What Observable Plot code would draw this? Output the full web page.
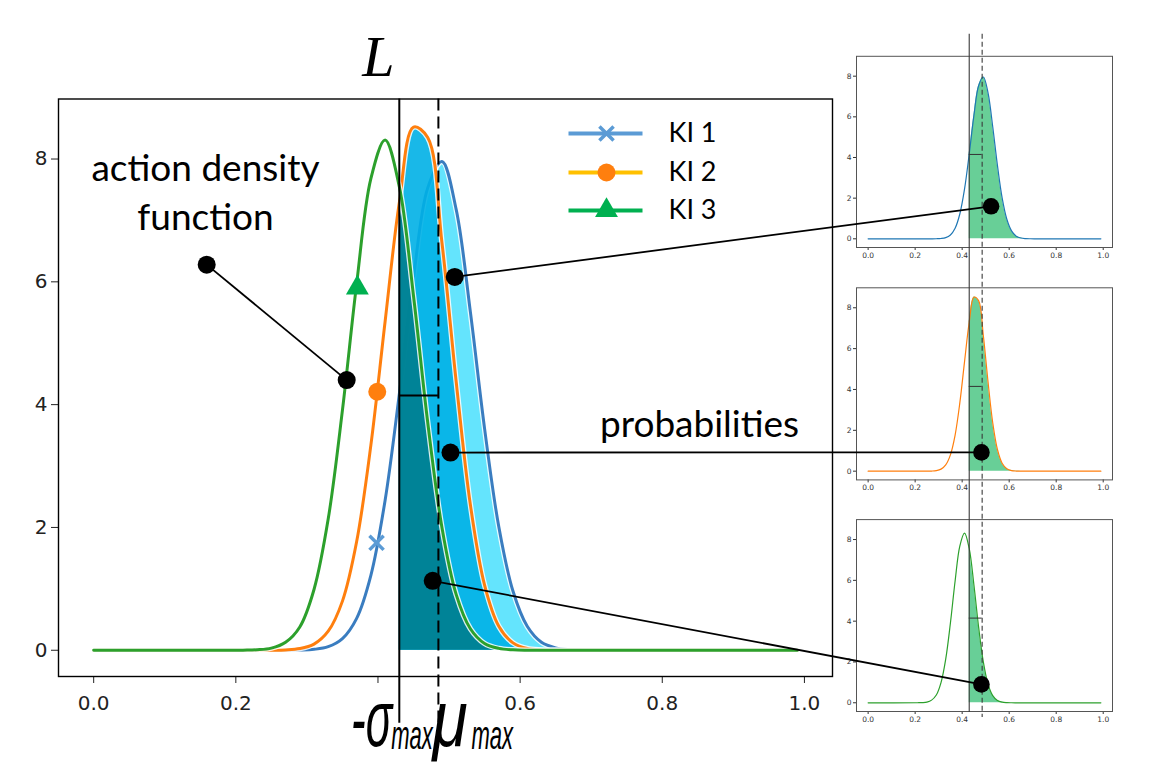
<!DOCTYPE html>
<html>
<head>
<meta charset="utf-8">
<script src="https://cdn.jsdelivr.net/npm/d3@7"></script>
<script src="https://cdn.jsdelivr.net/npm/@observablehq/plot@0.6"></script>
<style>
  html, body { margin: 0; padding: 0; background: #fff; }
  #fig { position: relative; width: 1171px; height: 781px; overflow: hidden; background: #fff; }
  #fig svg { position: absolute; left: 0; top: 0; }
</style>
</head>
<body>
<div id="fig"></div>
<script>
// Action density of three KIs on a shared grid of action values
const xs  = [0, 0.21, 0.23, 0.25, 0.27, 0.29, 0.31, 0.33, 0.35, 0.37, 0.39, 0.41, 0.43, 0.45, 0.47,
             0.49, 0.51, 0.53, 0.55, 0.57, 0.59, 0.61, 0.63, 0.65, 0.67, 0.69, 0.71, 0.73, 0.75, 0.99];
const ki1 = [0, 0, 0, 0, 0, 0.003, 0.015, 0.058, 0.19, 0.52, 1.22, 2.44, 4.17, 6.07, 7.53,
             7.96, 7.18, 5.51, 3.61, 2.01, 0.96, 0.39, 0.13, 0.039, 0.01, 0.002, 0, 0, 0, 0];
const ki2 = [0, 0, 0, 0.001, 0.006, 0.027, 0.10, 0.31, 0.80, 1.77, 3.34, 5.35, 7.29, 8.52, 8.35,
             6.64, 4.38, 2.37, 1.06, 0.39, 0.12, 0.028, 0.005, 0.001, 0, 0, 0, 0, 0, 0];
const ki3 = [0, 0.002, 0.008, 0.034, 0.13, 0.38, 0.99, 2.14, 3.91, 5.97, 7.68, 8.31, 7.55, 5.77, 3.71,
             2.00, 0.91, 0.35, 0.11, 0.03, 0.007, 0.001, 0, 0, 0, 0, 0, 0, 0, 0];
const seriesNames = ["KI 1", "KI 2", "KI 3"];

// Threshold L = -sigma_max, the largest mean mu_max, and the level of the bracket between them
const L = 0.43;
const MU = 0.485;
const BRACKET = 4.15;

// Tick values
const xTicks = [0, 0.2, 0.4, 0.6, 0.8, 1.0];
const yTicks = [0, 2, 4, 6, 8];

// Series markers placed on the curves
const markerX = [0.398, 0.399, 0.371];
const markerY = [1.75, 4.21, 5.9];

// Annotation points: label anchor and its point on the KI 3 curve
const labelPointX = [0.159, 0.356];
const labelPointY = [6.28, 4.4];

// Probability probes in the main chart and their counterparts in the three small charts
const probeMainX  = [0.508, 0.502, 0.477];
const probeMainY  = [6.08, 3.22, 1.13];
const probeSmallX = [0.523, 0.482, 0.482];
const probeSmallY = [1.6, 0.92, 0.9];

// ---------------------------------------------------------------------------
const W = 1171, H = 781;
const xDomain = [-0.0495, 1.0395];
const yDomain = [-0.4275, 8.9775];
const curve = "catmull-rom";
const keys = ["ki1", "ki2", "ki3"];

const rows = xs.map((x, i) => ({x, ki1: ki1[i], ki2: ki2[i], ki3: ki3[i]}));
const tail = rows.filter(d => d.x >= L);

const style = {
  line:   ["#3a7dc0", "#ff7f0e", "#2ca02c"],
  small:  ["#1f77b4", "#ff7f0e", "#2ca02c"],
  fill:   ["#64e4fd", "#00b0e6", "#007f8f"],
  legend: ["#5b9bd5", "#ffc000", "#00b050"],
  marker: ["#5b9bd5", "#ff7f0e", "#00b050"]
};

const halo = key => Plot.line(rows, {x: "x", y: key, curve, stroke: "white", strokeWidth: 5.5, strokeOpacity: 0.85});
const curveLine = (key, i) => Plot.line(rows, {x: "x", y: key, curve, stroke: style.line[i], strokeWidth: 3});
const lineBottom = -1.19;

const markers = markerX.map((x, i) => ({x, y: markerY[i], i}));

// Main chart
const main = Plot.plot({
  width: W, height: H,
  marginLeft: 58, marginRight: 339, marginTop: 98.5, marginBottom: 105,
  x: {domain: xDomain, ticks: xTicks, tickFormat: d => d === 0.4 ? "" : d.toFixed(1),
      tickSize: 7, tickPadding: 12, label: null},
  y: {domain: yDomain, ticks: yTicks, tickSize: 7, tickPadding: 4, label: null},
  style: {background: "transparent", fontFamily: "DejaVu Sans", fontSize: "20px", color: "#222"},
  marks: [
    Plot.areaY(tail, {x: "x", y: "ki1", curve, fill: style.fill[0]}),
    halo("ki1"), curveLine("ki1", 0),
    Plot.areaY(tail, {x: "x", y: "ki2", curve, fill: style.fill[1], fillOpacity: 0.9}),
    Plot.areaY(tail, {x: "x", y: "ki3", curve, fill: style.fill[2], fillOpacity: 0.92}),
    halo("ki2"), curveLine("ki2", 1),
    halo("ki3"), curveLine("ki3", 2),
    Plot.ruleX([L], {y1: () => yDomain[1], y2: () => lineBottom, stroke: "black", strokeWidth: 2}),
    Plot.ruleX([MU], {y1: () => yDomain[1], y2: () => lineBottom, stroke: "black", strokeWidth: 2, strokeDasharray: "12,6"}),
    Plot.ruleY([BRACKET], {x1: () => L, x2: () => MU, stroke: "black", strokeWidth: 2}),
    Plot.frame({stroke: "black", strokeWidth: 1.4}),
    Plot.dot(markers.filter(d => d.i === 0), {x: "x", y: "y", symbol: "times", r: 6.5, stroke: style.marker[0], strokeWidth: 3.5}),
    Plot.dot(markers.filter(d => d.i === 1), {x: "x", y: "y", symbol: "circle", r: 9, fill: style.marker[1]}),
    Plot.dot(markers.filter(d => d.i === 2), {x: "x", y: "y", symbol: "triangle", r: 8.5, fill: style.marker[2]}),
    Plot.link([0], {x1: () => labelPointX[0], y1: () => labelPointY[0], x2: () => labelPointX[1], y2: () => labelPointY[1], stroke: "black", strokeWidth: 1.8}),
    Plot.dot(labelPointX.map((x, i) => ({x, y: labelPointY[i]})), {x: "x", y: "y", r: 9, fill: "black"})
  ]
});

// Small per-KI charts on the right
const smallFrames = [[55.8, 534], [287.3, 301.6], [519.1, 70]];
const smalls = keys.map((key, i) => Plot.plot({
  width: W, height: H,
  marginLeft: 856, marginRight: 59, marginTop: smallFrames[i][0], marginBottom: smallFrames[i][1],
  x: {domain: xDomain, ticks: xTicks, tickFormat: d => d.toFixed(1), tickSize: 3, tickPadding: 2, label: null},
  y: {domain: yDomain, ticks: yTicks, tickSize: 3, tickPadding: 2, label: null},
  style: {background: "transparent", fontFamily: "DejaVu Sans", fontSize: "7.5px", color: "#333"},
  marks: [
    Plot.areaY(tail, {x: "x", y: key, curve, fill: "#68cf97"}),
    Plot.line(rows, {x: "x", y: key, curve, stroke: style.small[i], strokeWidth: 1.2}),
    Plot.ruleY([BRACKET], {x1: () => L, x2: () => MU, stroke: "#333", strokeWidth: 1}),
    Plot.frame({stroke: "#555", strokeWidth: 1})
  ]
}));

// Overlay in page pixels: connectors, probes, guide lines, legend and labels
const lin = s => d3.scaleLinear(s.domain, s.range);
const mX = lin(main.scale("x")), mY = lin(main.scale("y"));
const sc = smalls.map(p => ({x: lin(p.scale("x")), y: lin(p.scale("y"))}));

const connectors = probeMainX.map((x, i) => ({
  x1: mX(x), y1: mY(probeMainY[i]),
  x2: sc[i].x(probeSmallX[i]), y2: sc[i].y(probeSmallY[i])
}));
const guideTop = sc[0].y(yDomain[1]) - 22;
const guideBottom = sc[2].y(yDomain[0]) + 1;

const legendY = [133, 172, 210];
const legendRows = seriesNames.map((name, i) => ({name, y: legendY[i], i}));

const labels = [
  {text: "action density", x: 205, y: 180},
  {text: "function", x: 205, y: 229},
  {text: "probabilities", x: 699, y: 436}
];

const textMark = (data, opts) => Plot.text(data, {x: "x", y: "y", text: "text", fill: "black", ...opts});

const overlay = Plot.plot({
  width: W, height: H, margin: 0,
  x: {domain: [0, W], range: [0, W], axis: null},
  y: {domain: [0, H], range: [0, H], axis: null},
  style: {background: "transparent"},
  marks: [
    Plot.ruleX([sc[0].x(L)], {y1: () => guideTop, y2: () => guideBottom, stroke: "#3a3a3a", strokeWidth: 1.1}),
    Plot.ruleX([sc[0].x(MU)], {y1: () => guideTop, y2: () => guideBottom + 5, stroke: "#3a3a3a", strokeWidth: 1.1, strokeDasharray: "5,3"}),
    Plot.link(connectors, {x1: "x1", y1: "y1", x2: "x2", y2: "y2", stroke: "black", strokeWidth: 1.8}),
    Plot.dot(connectors, {x: "x1", y: "y1", r: 9, fill: "black"}),
    Plot.dot(connectors, {x: "x2", y: "y2", r: 8.3, fill: "black"}),
    // legend
    Plot.link(legendRows, {x1: () => 568, x2: () => 642, y1: "y", y2: "y", stroke: d => style.legend[d.i], strokeWidth: 4}),
    Plot.dot(legendRows.filter(d => d.i === 0), {x: () => 606, y: "y", symbol: "times", r: 6.5, stroke: style.marker[0], strokeWidth: 3.5}),
    Plot.dot(legendRows.filter(d => d.i === 1), {x: () => 606, y: "y", symbol: "circle", r: 9, fill: style.marker[1]}),
    Plot.dot(legendRows.filter(d => d.i === 2), {x: () => 606, y: "y", symbol: "triangle", r: 8.5, fill: style.marker[2]}),
    Plot.text(legendRows, {x: () => 668, y: "y", text: "name", textAnchor: "start", lineAnchor: "middle",
      fontFamily: "Lato", fontSize: 27, fill: "black"}),
    // annotation labels
    textMark(labels, {textAnchor: "middle", lineAnchor: "bottom", fontFamily: "Lato", fontSize: 37}),
    textMark([{text: "L", x: mX(L) - 21, y: 75}], {textAnchor: "middle", lineAnchor: "bottom",
      fontFamily: "Liberation Serif", fontStyle: "italic", fontSize: 58}),
    // -sigma_max under the threshold line, mu_max under the dashed line
    textMark([{text: "-σ", x: mX(L) - 7, y: 745}], {textAnchor: "end", lineAnchor: "bottom",
      fontFamily: "Liberation Sans", fontStyle: "italic", fontSize: 80}),
    textMark([{text: "max", x: mX(L) - 8, y: 748}, {text: "max", x: mX(MU) + 33, y: 748}], {textAnchor: "start", lineAnchor: "bottom",
      fontFamily: "Liberation Sans", fontStyle: "italic", fontSize: 40}),
    textMark([{text: "μ", x: mX(MU) - 6, y: 745}], {textAnchor: "start", lineAnchor: "bottom",
      fontFamily: "Liberation Sans", fontStyle: "italic", fontSize: 80})
  ]
});

// Narrow the Greek axis symbols horizontally, keeping each anchor in place
const narrowing = {"-σ": 0.55, "max": 0.55, "μ": 0.8};
d3.select(overlay).selectAll("text").each(function () {
  const k = narrowing[this.textContent];
  if (!k) return;
  const t = this.getAttribute("transform") || "";
  const x = +this.getAttribute("x") || 0, y = +this.getAttribute("y") || 0;
  this.setAttribute("x", 0);
  this.setAttribute("y", 0);
  this.setAttribute("transform", `${t} translate(${x},${y}) scale(${k},1)`);
});

const fig = document.getElementById("fig");
[main, ...smalls, overlay].forEach(n => fig.append(n));
</script>
</body>
</html>
